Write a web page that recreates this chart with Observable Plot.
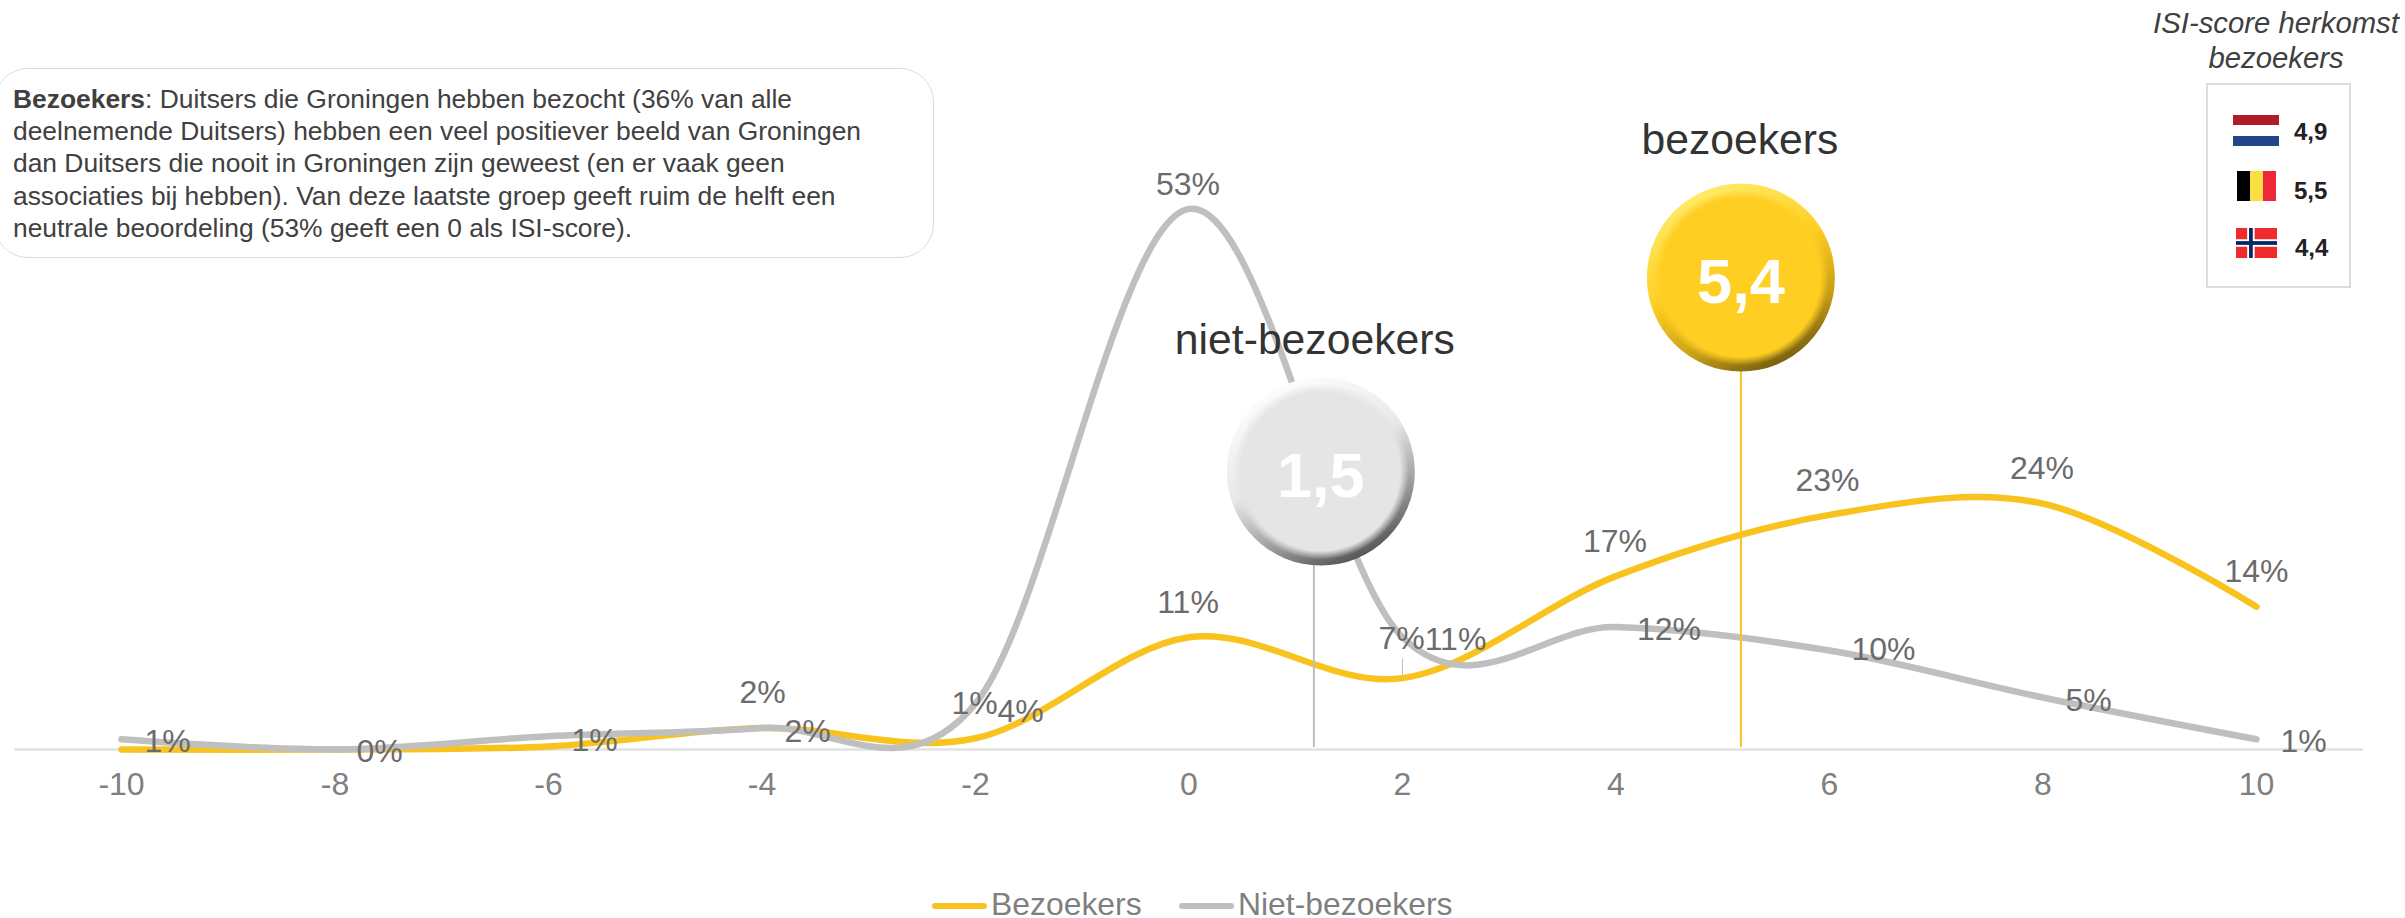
<!DOCTYPE html>
<html lang="nl">
<head>
<meta charset="utf-8">
<script src="https://cdn.jsdelivr.net/npm/d3@7"></script>
<script src="https://cdn.jsdelivr.net/npm/@observablehq/plot@0.6"></script>
<style>
html,body{margin:0;padding:0;background:#fff;overflow:hidden}
#wrap{position:relative;width:2405px;height:918px;font-family:"Liberation Sans",Arial,sans-serif}
#wrap svg{display:block}
.abs{position:absolute}
#note{left:-6px;top:68px;width:938px;height:188px;border:1.5px solid #dcdcdc;border-radius:34px;box-sizing:content-box;background:#fff}
#noteText{left:13px;top:83px;font-size:26.4px;line-height:32.2px;color:#404040;white-space:pre}
#isiTitle{left:2146px;width:260px;top:5px;text-align:center;font-style:italic;font-size:29.3px;line-height:35px;color:#404040}
#isiBox{left:2206px;top:83px;width:141px;height:201px;border:2.5px solid #dcdcdc}
.val{font-weight:bold;font-size:24px;color:#222;line-height:26px}
.leg{font-size:31.9px;color:#7f7f7f;line-height:28px;white-space:pre}
.swatch{height:6px;border-radius:3px}
</style>
</head>
<body>
<div id="wrap"></div>
<script>
// ISI-score (x axis)
const scores = [-10, -8, -6, -4, -2, 0, 2, 4, 6, 8, 10];
// Share of respondents
const bezoekers = [0, 0, 0.3, 2.1, 1.1, 11, 7, 17, 23, 24.1, 14];
const nietBezoekers = [1, 0, 1.3, 2.1, 4.5, 53, 11, 12, 9.7, 5.1, 1];
// Data labels as printed
const bezoekersLabels = [null, null, null, "2%", "1%", "11%", "7%", "17%", "23%", "24%", "14%"];
const nietBezoekersLabels = ["1%", "0%", "1%", "2%", "4%", "53%", "11%", "12%", "10%", "5%", "1%"];
// Average scores
const averages = [
  {name: "niet-bezoekers", score: "1,5", ruleAt: 1.17, at: 1.235, level: 27.25},
  {name: "bezoekers", score: "5,4", ruleAt: 5.17, at: 5.17, level: 46.27}
];
// Manual label offsets (px), as placed in the original
const bezoekersOffsets = [null, null, null, [0.5,-35], [-1,-34.8], [-1,-34.8], [-1,-39.6], [-1,-34.6], [-2,-34.4], [-1,-35], [0,-35]];
const nietBezoekersOffsets = [[46,2],[44.5,2],[46,5],[45.5,3.4],[45,8],[-1,-24.4],[53,2],[53,2.4],[54,-1],[45.5,3],[47,2]];
const nameOffsets = [[-6,-131],[-1,-137]];
// ISI score by country of origin
const origins = ["4,9", "5,5", "4,4"];

const yellow = "#F9C31F", grey = "#BFBFBF", font = "Liberation Sans";
const table = (vals) => scores.map((x, i) => ({x, y: vals[i]}));
const curve = d3.curveCatmullRom.alpha(0);

const defs = () => {
  const s = d3.create("svg:g");
  const d = s.append("defs");
  const lin = (id, stops) => {
    const g = d.append("linearGradient").attr("id", id).attr("x1", "0.25").attr("y1", "0").attr("x2", "0.72").attr("y2", "1");
    stops.forEach(([o, c]) => g.append("stop").attr("offset", o).attr("stop-color", c));
  };
  const rad = (id, c) => {
    const g = d.append("radialGradient").attr("id", id).attr("cx", "0.5").attr("cy", "0.5").attr("r", "0.5");
    g.append("stop").attr("offset", "0.9").attr("stop-color", c).attr("stop-opacity", 1);
    g.append("stop").attr("offset", "1").attr("stop-color", c).attr("stop-opacity", 0);
  };
  lin("rimY", [[0, "#FFEE70"], [0.45, "#FFCE22"], [0.75, "#C9A016"], [1, "#6b5510"]]);
  lin("rimG", [[0, "#FFFFFF"], [0.45, "#E8E8E8"], [0.75, "#9a9a9a"], [1, "#4a4a4a"]]);
  rad("coreY", "#FFCE22");
  rad("coreG", "#E5E5E5");
  return s.node();
};

const labelMarks = (vals, labels, offsets) => scores.flatMap((x, i) => labels[i] == null ? [] : [
  Plot.text([{x, y: vals[i], t: labels[i]}], {
    x: "x", y: "y", text: "t", dx: offsets[i][0], dy: offsets[i][1],
    fontSize: 32, fontFamily: font, fill: "#6b6b6b", textAnchor: "middle", lineAnchor: "middle"
  })
]);

const chart = Plot.plot({
  width: 2405, height: 918,
  marginLeft: 121, marginRight: 149, marginTop: 0, marginBottom: 169,
  x: {domain: [-10, 10], axis: null},
  y: {domain: [0, 73.43], axis: null},
  style: {fontFamily: font, background: "transparent", overflow: "visible"},
  marks: [
    defs,
    Plot.ruleY([0], {x1: -11, x2: 11, stroke: "#E2E2E2", strokeWidth: 2.5}),
    Plot.axisX({
      ticks: scores, tickSize: 0, tickPadding: 23, fontSize: 32, fontFamily: font,
      color: "#7f7f7f", tickFormat: (d) => String(d), label: null
    }),
    Plot.line(table(bezoekers), {x: "x", y: "y", curve, stroke: yellow, strokeWidth: 6.5, strokeLinecap: "round"}),
    Plot.line(table(nietBezoekers), {x: "x", y: "y", curve, stroke: grey, strokeWidth: 6.5, strokeLinecap: "round"}),
    Plot.ruleX([averages[0]], {x: "ruleAt", y1: 0.2, y2: "level", stroke: grey, strokeWidth: 2}),
    Plot.ruleX([averages[1]], {x: "ruleAt", y1: 0.2, y2: "level", stroke: yellow, strokeWidth: 2}),
    Plot.ruleX([2], {y1: 7.06, y2: 8.9, stroke: "#BFBFBF", strokeWidth: 1}),
    Plot.dot([averages[0]], {x: "at", y: "level", r: 94, fill: "url(#rimG)", stroke: "none"}),
    Plot.dot([averages[0]], {x: "at", y: "level", r: 88, fill: "url(#coreG)", stroke: "none"}),
    Plot.dot([averages[1]], {x: "at", y: "level", r: 94, fill: "url(#rimY)", stroke: "none"}),
    Plot.dot([averages[1]], {x: "at", y: "level", r: 88, fill: "url(#coreY)", stroke: "none"}),
    Plot.text(averages, {x: "at", y: "level", text: "score", fontSize: 63, fontWeight: "bold", fontFamily: font, fill: "#fff", textAnchor: "middle", lineAnchor: "middle", dy: 5}),
    ...averages.map((a, i) => Plot.text([a], {x: "at", y: "level", text: "name", fontSize: 42.7, fontFamily: font, fill: "#333333", textAnchor: "middle", lineAnchor: "middle", dx: nameOffsets[i][0], dy: nameOffsets[i][1]})),
    ...labelMarks(bezoekers, bezoekersLabels, bezoekersOffsets),
    ...labelMarks(nietBezoekers, nietBezoekersLabels, nietBezoekersOffsets)
  ]
});

const wrap = document.getElementById("wrap");
wrap.appendChild(chart);

const add = (cls, style, html) => {
  const e = document.createElement("div");
  e.className = "abs " + cls;
  if (style) e.style.cssText = style;
  if (html != null) e.innerHTML = html;
  wrap.appendChild(e);
  return e;
};

add("", "", null).id = "note";
add("", "", "<b>Bezoekers</b>: Duitsers die Groningen hebben bezocht (36% van alle\ndeelnemende Duitsers) hebben een veel positiever beeld van Groningen\ndan Duitsers die nooit in Groningen zijn geweest (en er vaak geen\nassociaties bij hebben). Van deze laatste groep geeft ruim de helft een\nneutrale beoordeling (53% geeft een 0 als ISI-score).").id = "noteText";
add("", "", "ISI-score herkomst<br>bezoekers").id = "isiTitle";
add("", "", null).id = "isiBox";

// flags
add("", "left:2233px;top:115px;width:46px;height:31px;background:linear-gradient(#AE1C28 0 33.3%,#fff 33.3% 66.6%,#21468B 66.6%)");
add("", "left:2237px;top:171px;width:39px;height:30px;background:linear-gradient(90deg,#000 0 33.3%,#FAE042 33.3% 66.6%,#ED2939 66.6%)");
add("", "left:2236px;top:228px;width:41px;height:30px", '<svg width="41" height="30" viewBox="0 0 22 16" preserveAspectRatio="none"><rect width="22" height="16" fill="#EF2B2D"/><rect x="6" width="4" height="16" fill="#fff"/><rect y="6" width="22" height="4" fill="#fff"/><rect x="7" width="2" height="16" fill="#002868"/><rect y="7" width="22" height="2" fill="#002868"/></svg>');
origins.forEach((v, i) => {
  add("val", `left:${i === 2 ? 2295 : 2294}px;top:${[119, 178, 235][i]}px`, v);
});

// legend
add("swatch", `left:932px;top:903px;width:55px;background:${yellow}`);
add("leg", "left:991px;top:890px", "Bezoekers");
add("swatch", `left:1179px;top:903px;width:55px;background:${grey}`);
add("leg", "left:1238px;top:890px", "Niet-bezoekers");
</script>
</body>
</html>
